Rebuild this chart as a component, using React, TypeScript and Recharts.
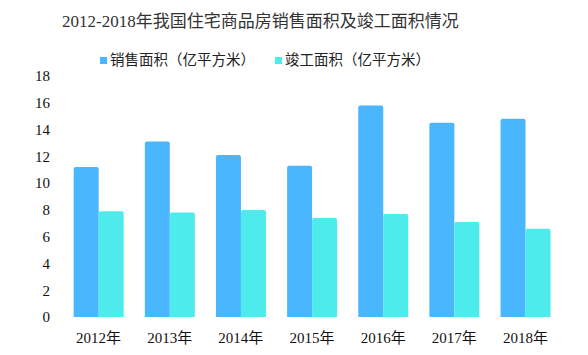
import { Bar, BarChart, XAxis, YAxis } from "recharts";

const years = ["2012年", "2013年", "2014年", "2015年", "2016年", "2017年", "2018年"];
const salesArea = [11.2, 13.1, 12.1, 11.3, 15.8, 14.5, 14.8];
const completedArea = [7.9, 7.8, 8.0, 7.4, 7.7, 7.1, 6.6];
const yTicks = [0, 2, 4, 6, 8, 10, 12, 14, 16, 18];

const SALES = "销售面积（亿平方米）";
const COMPLETED = "竣工面积（亿平方米）";
const COLORS = { sales: "#4ab6fe", completed: "#4debeb" };
const FONT = "'Liberation Serif', 'Noto Sans CJK SC', serif";

const chartData = years.map((y, i) => ({
  name: y,
  [SALES]: salesArea[i],
  [COMPLETED]: completedArea[i],
}));

const legendItems = [
  { label: SALES, color: COLORS.sales },
  { label: COMPLETED, color: COLORS.completed },
];

export default function App() {
  return (
    <div style={{ position: "absolute", left: 0, top: 0, width: 588, height: 355, background: "#fff" }}>
      <div
        style={{
          position: "absolute",
          left: 62,
          top: 10,
          fontFamily: FONT,
          fontSize: 17,
          color: "#333",
          whiteSpace: "nowrap",
          lineHeight: "24px",
        }}
      >
        2012-2018年我国住宅商品房销售面积及竣工面积情况
      </div>
      <div style={{ position: "absolute", left: 100, top: 50, display: "flex", gap: 20 }}>
        {legendItems.map((it) => (
          <div
            key={it.label}
            style={{ display: "flex", alignItems: "center", fontFamily: FONT, fontSize: 14.5, color: "#222", lineHeight: "20px" }}
          >
            <span style={{ width: 7, height: 7, background: it.color, marginRight: 3, display: "inline-block" }} />
            {it.label}
          </div>
        ))}
      </div>
      <BarChart
        width={588}
        height={355}
        data={chartData}
        margin={{ top: 76, right: 27, left: 0, bottom: 8 }}
        barCategoryGap="15%"
        barGap={0}
      >
        <XAxis
          dataKey="name"
          axisLine={false}
          tickLine={false}
          tickMargin={9}
          height={30}
          tick={{ fill: "#111", fontSize: 15, fontFamily: FONT }}
        />
        <YAxis
          domain={[0, 18]}
          ticks={yTicks}
          axisLine={false}
          tickLine={false}
          width={63}
          tickMargin={7}
          tick={{ fill: "#111", fontSize: 15, fontFamily: FONT }}
        />
        <Bar dataKey={SALES} fill={COLORS.sales} radius={[2, 2, 0, 0]} isAnimationActive={false} />
        <Bar dataKey={COMPLETED} fill={COLORS.completed} radius={[2, 2, 0, 0]} isAnimationActive={false} />
      </BarChart>
    </div>
  );
}
